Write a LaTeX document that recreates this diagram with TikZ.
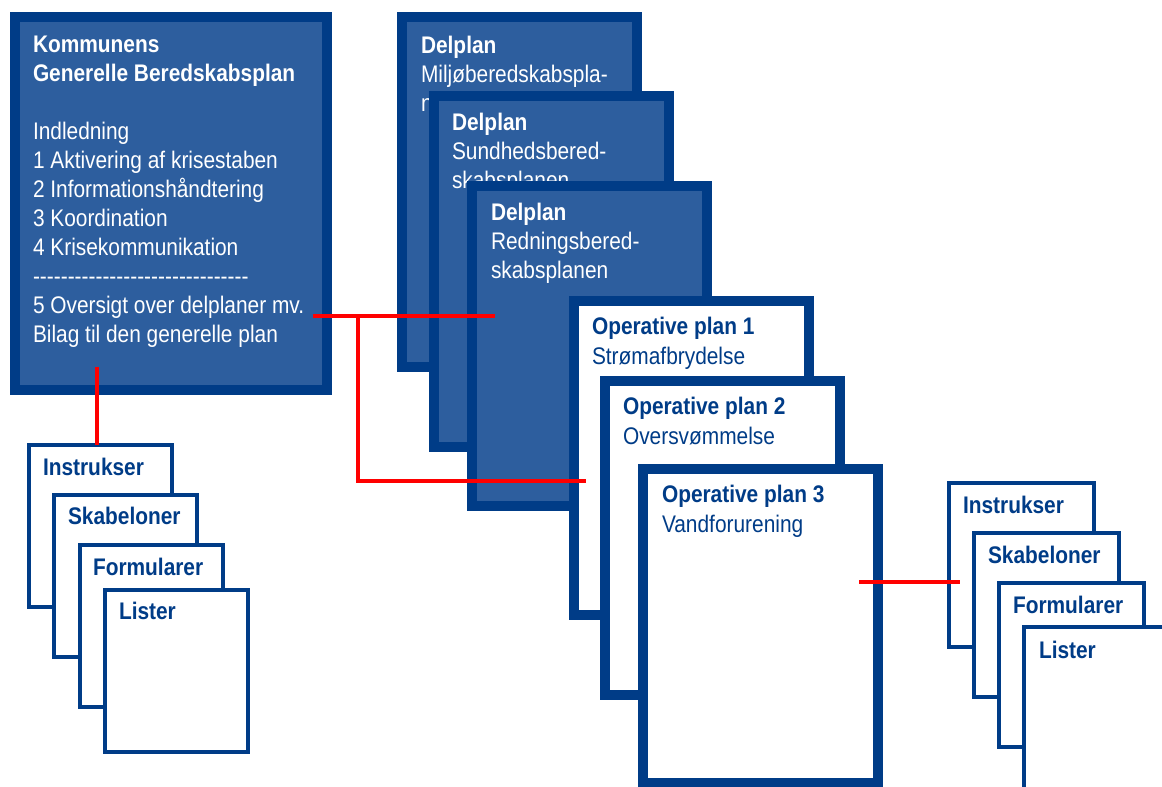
\documentclass[tikz,border=0pt]{standalone}
\usepackage{fontspec}
\setmainfont{Liberation Sans}[FakeStretch=0.87]
\definecolor{bordblue}{RGB}{0,60,135}
\definecolor{fillblue}{RGB}{45,94,158}
\definecolor{redline}{RGB}{255,0,0}
\newcommand\hy{\mbox{-}}
\begin{document}
\begin{tikzpicture}[x=1pt,y=-1pt,
  darkbox/.style={draw=bordblue, fill=fillblue, line width=10pt, inner sep=0pt, outer sep=0pt, minimum width=235pt},
  whitebox/.style={draw=bordblue, fill=white, line width=10pt, inner sep=0pt, outer sep=0pt, minimum width=235pt, minimum height=314pt},
  smallbox/.style={draw=bordblue, fill=white, line width=4pt, inner sep=0pt, outer sep=0pt, minimum width=143pt, minimum height=162pt},
  dtext/.style={anchor=north west, inner sep=0pt, outer sep=0pt, align=left, text=white, font=\fontsize{24}{29}\selectfont},
  otext/.style={anchor=north west, inner sep=0pt, outer sep=0pt, align=left, text=bordblue, font=\fontsize{24}{30}\selectfont},
  stext/.style={anchor=base west, inner sep=0pt, outer sep=0pt, text=bordblue, font=\fontsize{24}{29}\selectfont\bfseries},
  link/.style={draw=redline, line width=3.5pt}
]
\useasboundingbox (0,0) rectangle (1162,787);
\clip (0,0) rectangle (1162,787);

% main plan
\node[darkbox, minimum width=312pt, minimum height=373pt] (main) at (171,203.5) {};
\node[dtext] (maintext) at (33,35.8) {\textbf{Kommunens}\\ \textbf{Generelle Beredskabsplan}\\[29pt]
Indledning\\ 1 Aktivering af krisestaben\\ 2 Informationshåndtering\\ 3 Koordination\\ 4 Krisekommunikation\\
\hy\hy\hy\hy\hy\hy\hy\hy\hy\hy\hy\hy\hy\hy\hy\hy\hy\hy\hy\hy\hy\hy\hy\hy\hy\hy\hy\hy\hy\hy\hy\\
5 Oversigt over delplaner mv.\\ Bilag til den generelle plan};

% delplaner
\node[darkbox, minimum height=350pt] (d1) at (519.5,192) {};
\node[dtext] (d1text) at (421,35.8) {\textbf{Delplan}\\ Miljøberedskabspla-\\ nen};
\node[darkbox, minimum height=351pt] (d2) at (551.5,271.5) {};
\node[dtext] (d2text) at (452,112.8) {\textbf{Delplan}\\ Sundhedsbered-\\ skabsplanen};
\node[darkbox, minimum height=320pt] (d3) at (589.5,346) {};
\node[dtext] (d3text) at (491,202.8) {\textbf{Delplan}\\ Redningsbered-\\ skabsplanen};

% operative plans
\node[whitebox] (o1) at (691,458) {};
\node[otext] (o1text) at (592,317.2) {\textbf{Operative plan 1}\\ Strømafbrydelse};
\node[whitebox] (o2) at (722.5,538) {};
\node[otext] (o2text) at (623,397.2) {\textbf{Operative plan 2}\\ Oversvømmelse};
\node[whitebox] (o3) at (760.5,626) {};
\node[otext] (o3text) at (662,485.2) {\textbf{Operative plan 3}\\ Vandforurening};

% left attachments
\node[smallbox] (l1) at (100.5,526) {};
\node[stext] (l1text) at (43,475) {Instrukser};
\node[smallbox] (l2) at (125.5,575.5) {};
\node[stext] (l2text) at (68,524) {Skabeloner};
\node[smallbox] (l3) at (151,626) {};
\node[stext] (l3text) at (93,575) {Formularer};
\node[smallbox] (l4) at (176.5,670.5) {};
\node[stext] (l4text) at (119,619) {Lister};

% right attachments
\node[smallbox, minimum width=145pt, minimum height=164pt] (r1) at (1021.5,565) {};
\node[stext] (r1text) at (963,513) {Instrukser};
\node[smallbox, minimum width=145pt, minimum height=164pt] (r2) at (1046.5,615) {};
\node[stext] (r2text) at (988,563) {Skabeloner};
\node[smallbox, minimum width=145pt, minimum height=164pt] (r3) at (1071.5,665) {};
\node[stext] (r3text) at (1013,613) {Formularer};
\node[smallbox, minimum width=145pt, minimum height=164pt] (r4) at (1096.5,709) {};
\node[stext] (r4text) at (1039,658) {Lister};

% red connectors
\coordinate (ma) at (313,316);
\coordinate (mj) at (358,316);
\coordinate (dend) at (495,316);
\coordinate (oend) at (586,481);
\coordinate (mb) at (97,367);
\coordinate (oa) at (859,582);
\coordinate (rend) at (960,582);
\draw[link] (ma) -- (dend);
\draw[link] (mj) -- (mj |- oend) -- (oend);
\draw[link] (mb) -- (mb |- l1.north);
\draw[link] (oa) -- (rend);
\end{tikzpicture}
\end{document}
